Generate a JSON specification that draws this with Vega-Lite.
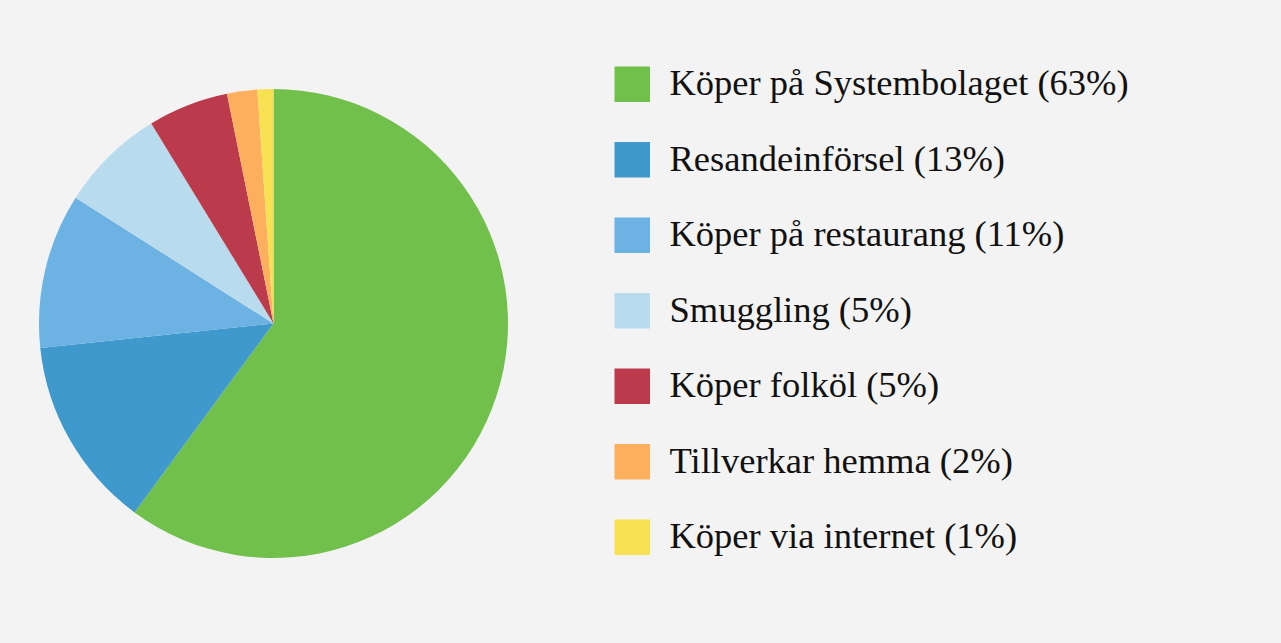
{
  "$schema": "https://vega.github.io/schema/vega-lite/v6.json",
  "width": 469,
  "height": 469,
  "padding": {"left": 39, "top": 66, "right": 152, "bottom": 85},
  "background": "#f3f3f3",
  "config": {"view": {"stroke": null}},
  "data": {
    "values": [
      {"rank": 1, "label": "Köper på Systembolaget (63%)", "share": 60.1},
      {"rank": 2, "label": "Resandeinförsel (13%)", "share": 13.25},
      {"rank": 3, "label": "Köper på restaurang (11%)", "share": 10.67},
      {"rank": 4, "label": "Smuggling (5%)", "share": 7.26},
      {"rank": 5, "label": "Köper folköl (5%)", "share": 5.55},
      {"rank": 6, "label": "Tillverkar hemma (2%)", "share": 2.08},
      {"rank": 7, "label": "Köper via internet (1%)", "share": 1.1}
    ]
  },
  "mark": {"type": "arc", "strokeWidth": 0},
  "encoding": {
    "theta": {"field": "share", "type": "quantitative", "stack": true},
    "order": {"field": "rank", "type": "ordinal"},
    "color": {
      "field": "label",
      "type": "nominal",
      "sort": null,
      "scale": {
        "domain": ["Köper på Systembolaget (63%)", "Resandeinförsel (13%)", "Köper på restaurang (11%)", "Smuggling (5%)", "Köper folköl (5%)", "Tillverkar hemma (2%)", "Köper via internet (1%)"],
        "range": ["#70c04b", "#3f99cc", "#6cb2e2", "#b8dcee", "#bb3a4c", "#fcb05e", "#f7e152"]
      },
      "legend": {
        "title": null,
        "orient": "none",
        "legendX": 575,
        "legendY": -23,
        "symbolType": "square",
        "symbolSize": 1260,
        "symbolStrokeWidth": 0,
        "symbolOpacity": 1,
        "labelFont": "Liberation Serif",
        "labelFontSize": 36.5,
        "labelColor": "#111111",
        "labelOffset": 19,
        "labelLimit": 1000,
        "rowPadding": 38.5,
        "padding": 0
      }
    }
  }
}
